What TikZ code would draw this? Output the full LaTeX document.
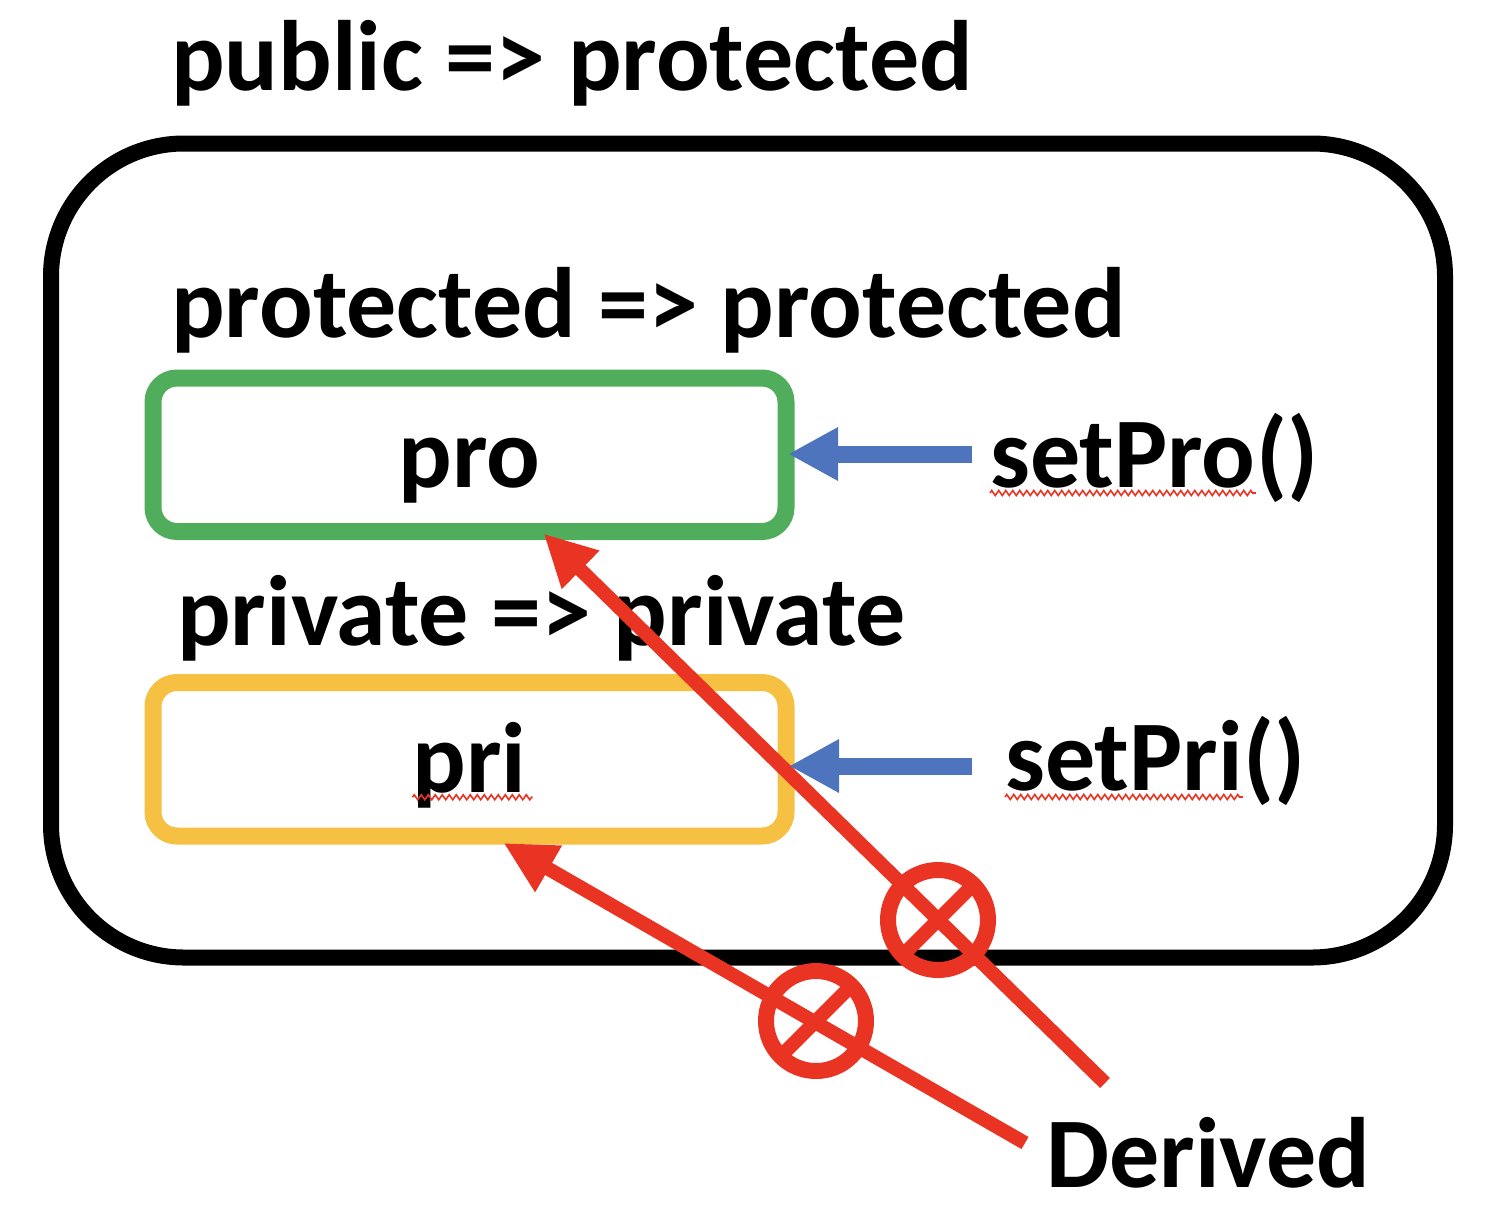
\documentclass[tikz,border=0pt]{standalone}
\usepackage{fontspec}
\setmainfont{Carlito}
\usetikzlibrary{arrows.meta,calc,decorations.pathmorphing}

\definecolor{boxgreen}{RGB}{80,173,91}
\definecolor{boxyellow}{RGB}{246,192,67}
\definecolor{setblue}{RGB}{78,116,190}
\definecolor{denyred}{RGB}{233,52,36}

\tikzset{
    lbl/.style={font=\fontsize{100}{120}\selectfont\bfseries, inner sep=0pt},
    member/.style={draw, line width=17pt, rounded corners=24pt, minimum width=633pt, minimum height=153.5pt,
        inner sep=0pt, outer sep=0pt, text height=75pt, text depth=9pt, font=\fontsize{100}{120}\selectfont\bfseries},
    setarrow/.style={draw=setblue, line width=17pt, -{Triangle[length=50pt,width=50pt]}},
    denyarrow/.style={draw=denyred, line width=14pt, -{Triangle[length=52pt,width=50pt]}},
    denymark/.style={circle, draw=denyred, line width=16pt, minimum size=100pt, inner sep=0pt, outer sep=0pt},
    spell/.style={draw=denyred, line width=1.6pt, decorate, decoration={zigzag, amplitude=2.5pt, segment length=7pt}}
}

\begin{document}
\begin{tikzpicture}[x=1pt,y=1pt,yscale=-1,xscale=1]
    \useasboundingbox (0,0) rectangle (1498,1210);

    %Shape: outer class box
    \draw [line width=16pt, rounded corners=133pt] (51,143.5) rectangle (1445,957.5);

    % Text Node
    \node (pubtitle) [lbl, anchor=base west] at (171,90) {public => protected};
    % Text Node
    \node (protitle) [lbl, anchor=base west] at (171,337) {protected => protected};
    % Text Node
    \node (prititle) [lbl, anchor=base west] at (177,645) {private => private};

    %Shape: member boxes
    \node (pro) [member, draw=boxgreen] at (469.5,454.75) {pro};
    \node (pri) [member, draw=boxyellow] at (469.5,759.25) {pri};

    % Text Node
    \node (setpro) [lbl, anchor=base west] at (990,487) {setPro};
    \node (setproparen) [lbl, anchor=base west] at (setpro.base east) {()};
    % Text Node
    \node (setpri) [lbl, anchor=base west] at (1005,790) {setPri};
    \node (setpriparen) [lbl, anchor=base west] at (setpri.base east) {()};
    % Text Node
    \node (derived) [lbl, anchor=base west] at (1046,1187) {Derived};

    %Straight Lines: access from Derived
    \coordinate (tailpro) at (1105,1083);
    \coordinate (tailpri) at (1025,1143);
    \draw [denyarrow] (tailpro) -- ($(pro.south)+(74,2)$);
    \draw [denyarrow] (tailpri) -- ($(pri.south)+(34,7)$);

    %Shape: forbidden marks
    \node (markpro) [denymark] at (938,920) {};
    \node (markpri) [denymark] at (816,1021) {};
    \draw [denyred, line width=14pt] (markpro.45) -- (markpro.225);
    \draw [denyred, line width=14pt] (markpri.45) -- (markpri.225);

    %Straight Lines: setters
    \coordinate (prosrc) at (972,454);
    \coordinate (prisrc) at (972,766);
    \draw [setarrow] (prosrc) -- ($(prosrc -| pro.east)+(2,0)$);
    \draw [setarrow] (prisrc) -- ($(prisrc -| pri.east)+(3,0)$);

    %Spelling marks
    \draw [spell] ($(setpro.base west)+(0,6)$) -- ($(setpro.base east)+(0,6)$);
    \draw [spell] ($(setpri.base west)+(0,7)$) -- ($(setpri.base east)+(0,7)$);
    \draw [spell] ($(pri.center)+(-57,38)$) -- ($(pri.center)+(63,38)$);

\end{tikzpicture}
\end{document}
